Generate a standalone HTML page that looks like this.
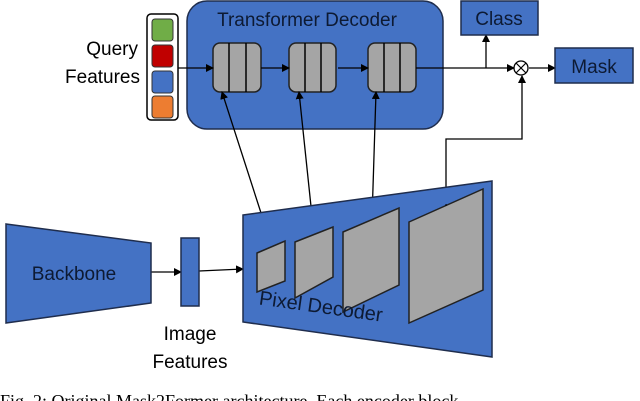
<!DOCTYPE html>
<html><head><style>
html,body{margin:0;padding:0;background:#fff;width:640px;height:401px;overflow:hidden}
svg{display:block}
text{font-family:"Liberation Sans",sans-serif}
</style></head><body>
<svg width="640" height="401" viewBox="0 0 640 401" xmlns="http://www.w3.org/2000/svg">
<defs>
<marker id="ah" markerWidth="8" markerHeight="8" refX="7" refY="4" orient="auto" markerUnits="userSpaceOnUse">
<path d="M0,0 L8,4 L0,8 z" fill="#000"/>
</marker>
</defs>
<!-- Transformer decoder -->
<rect x="187" y="1" width="256" height="128" rx="20" fill="#4472C4" stroke="#1f2d4d" stroke-width="1.5"/>
<text x="307" y="26" font-size="19" text-anchor="middle" fill="#0d1a33">Transformer Decoder</text>
<!-- Query box -->
<rect x="147" y="14" width="31" height="106" rx="4" fill="#fff" stroke="#000" stroke-width="1.5"/>
<rect x="152" y="19" width="21" height="22" rx="3" fill="#70AD47" stroke="#333"/>
<rect x="152" y="45" width="21" height="22" rx="3" fill="#C00000" stroke="#333"/>
<rect x="152" y="71" width="21" height="22" rx="3" fill="#4472C4" stroke="#333"/>
<rect x="152" y="96" width="21" height="22" rx="3" fill="#ED7D31" stroke="#333"/>
<text x="138" y="55" font-size="19" text-anchor="end">Query</text>
<text x="140" y="83" font-size="19" text-anchor="end">Features</text>
<!-- blocks -->
<g fill="#A5A5A5" stroke="#222" stroke-width="1.5">
<rect x="213" y="43" width="48" height="49" rx="7"/>
<rect x="289" y="43" width="47" height="49" rx="7"/>
<rect x="368" y="43" width="48" height="49" rx="7"/>
</g>
<g stroke="#000" stroke-width="1.5">
<line x1="229" y1="43" x2="229" y2="92"/><line x1="246" y1="43" x2="246" y2="92"/>
<line x1="305" y1="43" x2="305" y2="92"/><line x1="321" y1="43" x2="321" y2="92"/>
<line x1="384" y1="43" x2="384" y2="92"/><line x1="400" y1="43" x2="400" y2="92"/>
</g>
<g stroke="#000" stroke-width="1.3" fill="none">
<line x1="178" y1="68" x2="213" y2="68" marker-end="url(#ah)"/>
<line x1="261" y1="68" x2="289" y2="68" marker-end="url(#ah)"/>
<line x1="338" y1="68" x2="368" y2="68" marker-end="url(#ah)"/>
<line x1="416" y1="68" x2="514" y2="68" marker-end="url(#ah)"/>
<line x1="486" y1="68" x2="486" y2="35" marker-end="url(#ah)"/>
<line x1="529" y1="68" x2="555" y2="68" marker-end="url(#ah)"/>
<polyline points="446,204 446,139 522,139 522,76" marker-end="url(#ah)"/>
<line x1="272" y1="247" x2="222" y2="92" marker-end="url(#ah)"/>
<line x1="314" y1="235" x2="299" y2="92" marker-end="url(#ah)"/>
<line x1="372" y1="219" x2="376" y2="92" marker-end="url(#ah)"/>
<line x1="151" y1="272" x2="181" y2="272" marker-end="url(#ah)"/>
<line x1="199" y1="271" x2="243" y2="269" marker-end="url(#ah)"/>
</g>
<circle cx="521" cy="68" r="7" fill="#fff" stroke="#000" stroke-width="1.3"/>
<line x1="516" y1="63" x2="526" y2="73" stroke="#000" stroke-width="1.2"/>
<line x1="526" y1="63" x2="516" y2="73" stroke="#000" stroke-width="1.2"/>
<rect x="461" y="1" width="77" height="34" fill="#4472C4" stroke="#1f2d4d" stroke-width="1.5"/>
<text x="499" y="25" font-size="19" text-anchor="middle" fill="#0d1a33">Class</text>
<rect x="555" y="48" width="78" height="35" fill="#4472C4" stroke="#1f2d4d" stroke-width="1.5"/>
<text x="594" y="73" font-size="19" text-anchor="middle" fill="#0d1a33">Mask</text>
<!-- backbone -->
<polygon points="6,224 151,243 151,303 6,323" fill="#4472C4" stroke="#1f2d4d" stroke-width="1.5"/>
<text x="74" y="280" font-size="19" text-anchor="middle" fill="#0d1a33">Backbone</text>
<rect x="181" y="238" width="18" height="68" fill="#4472C4" stroke="#1f2d4d" stroke-width="1.5"/>
<text x="190" y="340" font-size="19" text-anchor="middle">Image</text>
<text x="190" y="368" font-size="19" text-anchor="middle">Features</text>
<!-- pixel decoder -->
<polygon points="243,215 492,181 492,357 243,322" fill="#4472C4" stroke="#1f2d4d" stroke-width="1.5"/>
<g fill="#A5A5A5" stroke="#222" stroke-width="1.5">
<polygon points="257,253 285,241 285,281 257,292"/>
<polygon points="295,242 333,227 333,277 295,298"/>
<polygon points="343,232 399,208 399,285 343,312"/>
<polygon points="409,222 483,189 483,290 409,323"/>
</g>
<line x1="446" y1="204" x2="446" y2="206" stroke="#000"/>
<text x="320" y="313" font-size="20" text-anchor="middle" fill="#0d1a33" transform="rotate(8 320 313)">Pixel Decoder</text>
<text x="0" y="407" font-size="18" font-family="Liberation Serif" style="font-family:'Liberation Serif',serif">Fig. 2: Original Mask2Former architecture. Each encoder block</text>
</svg>
</body></html>
